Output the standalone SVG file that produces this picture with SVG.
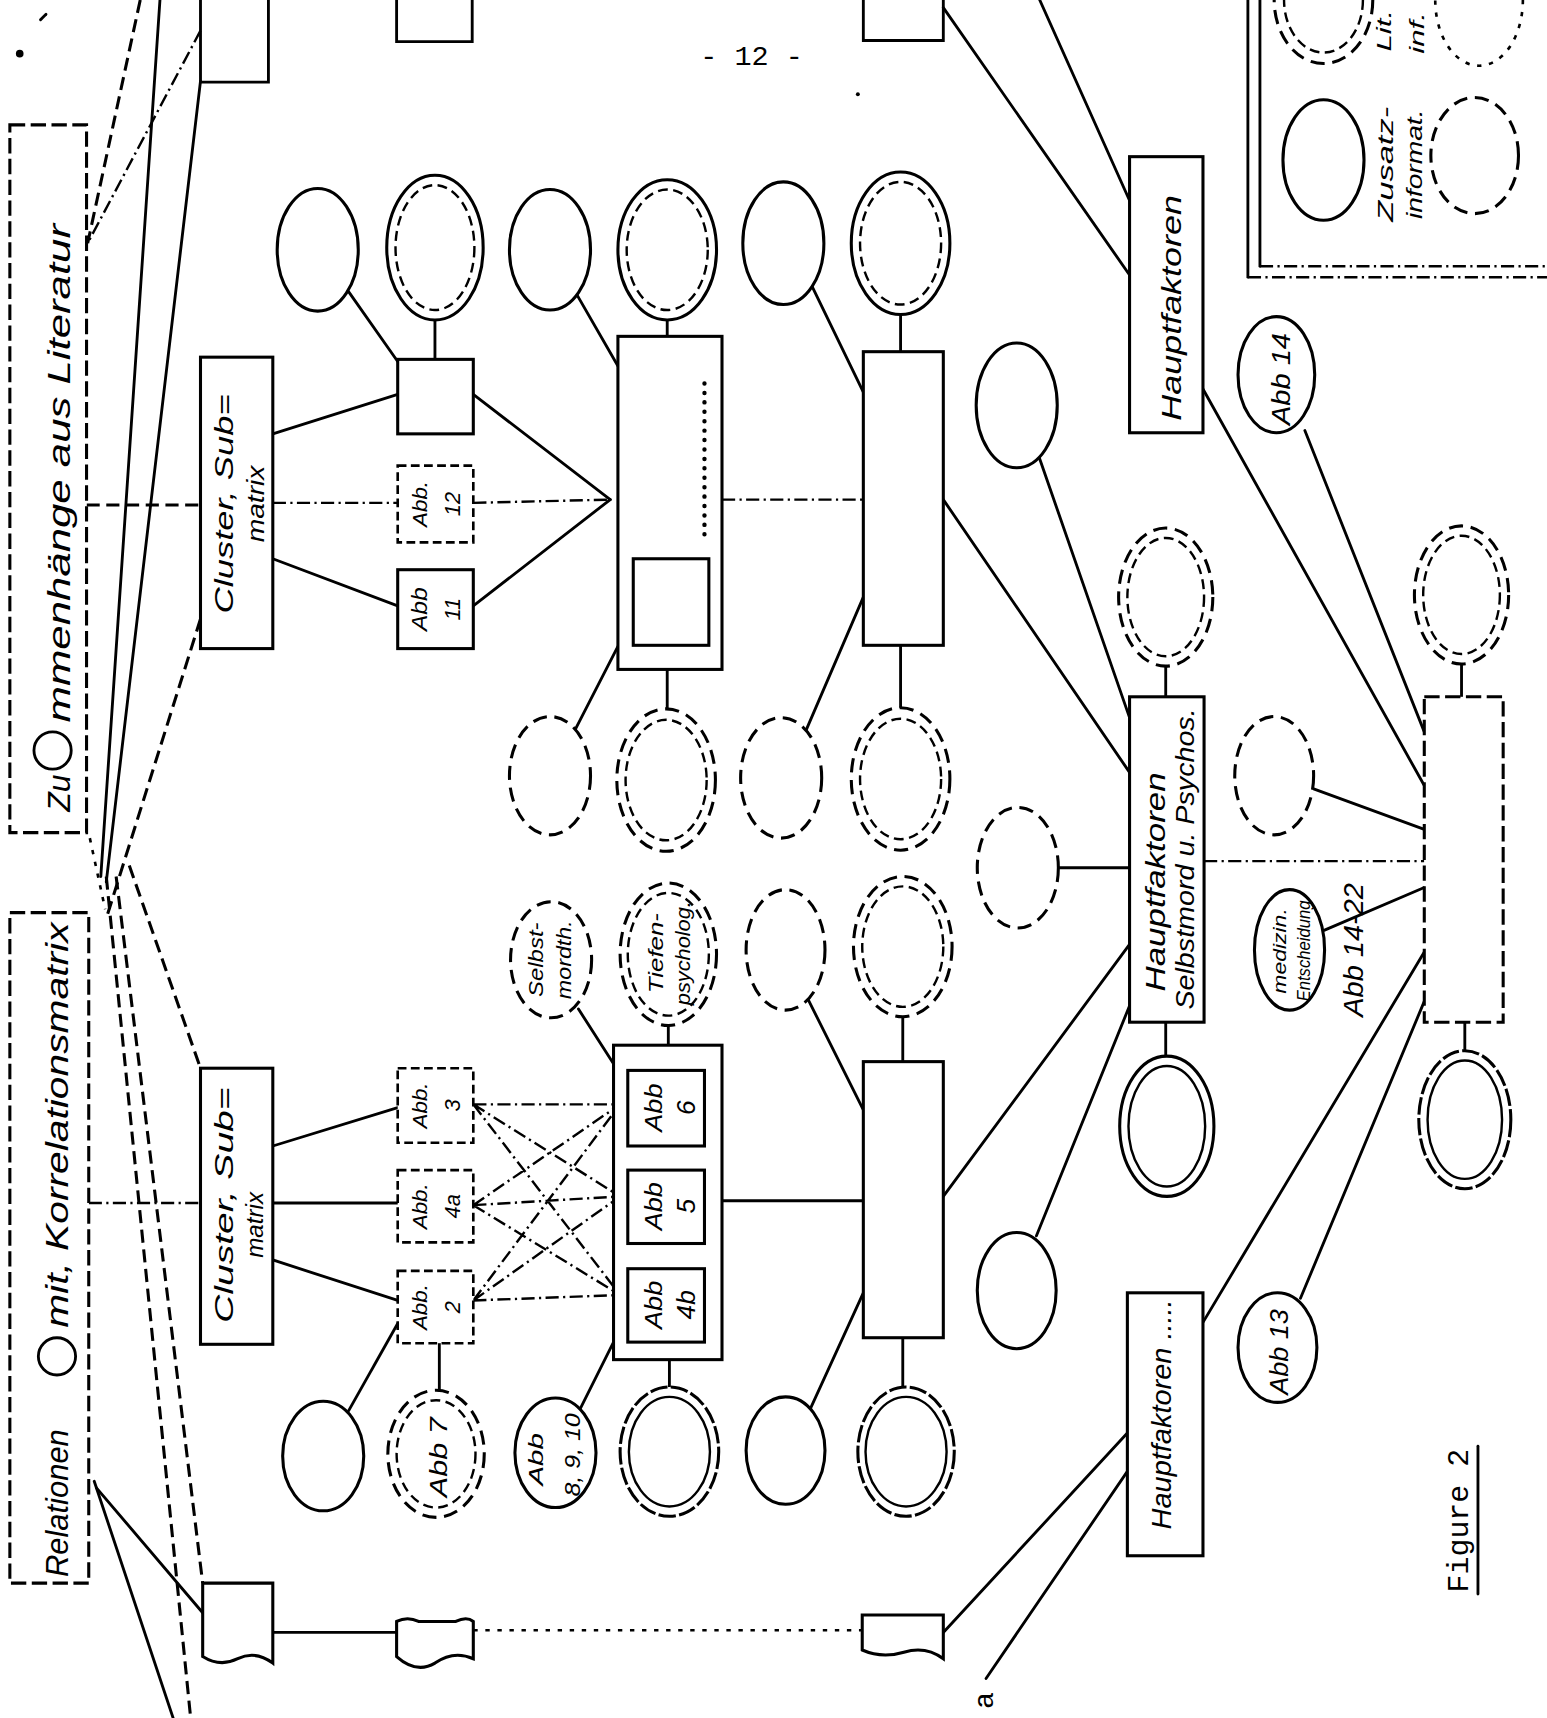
<svg xmlns="http://www.w3.org/2000/svg" width="1547" height="1718" viewBox="0 0 1547 1718">
<style>
.s{fill:none;stroke:#000;stroke-width:2.6;stroke-linecap:round}
.d{fill:none;stroke:#000;stroke-width:2.8;stroke-dasharray:12 6}
.dd{fill:none;stroke:#000;stroke-width:2.2;stroke-dasharray:12 4 2 4}
.dt{fill:none;stroke:#000;stroke-width:2.4;stroke-dasharray:4 7}
.box{fill:#fff;stroke:#000;stroke-width:2.8}
.dbox{fill:#fff;stroke:#000;stroke-width:2.8;stroke-dasharray:14 5}
.sbox{fill:#fff;stroke:#000;stroke-width:2.4;stroke-dasharray:8 4}
.es{fill:#fff;stroke:#000;stroke-width:2.8}
.ed{fill:#fff;stroke:#000;stroke-width:2.8;stroke-dasharray:13 7}
.ei{fill:none;stroke:#000;stroke-width:2.2;stroke-dasharray:9 5}
.eis{fill:none;stroke:#000;stroke-width:2.2}
.h{font-family:"Liberation Sans","DejaVu Sans",sans-serif;font-style:italic;fill:#000;text-anchor:middle}
.m{font-family:"Liberation Mono","DejaVu Sans Mono",monospace;fill:#000;text-anchor:middle}
</style>
<rect width="1547" height="1718" fill="#fff"/>
<g transform="scale(1.0956)">
<g id="connectors">
<path class="d" d="M128,0 L80,222"/>
<path class="dd" d="M183,28 L80,222"/>
<path class="s" d="M146,0 L92,800"/>
<path class="s" d="M183,74 L97,805"/>
<path class="d" d="M183,565 L98,835"/>
<path class="d" d="M118,790 L183,975"/>
<path class="d" d="M97,800 L174,1568"/>
<path class="d" d="M106,800 L185,1445"/>
<path class="s" d="M86,1352 L158,1568"/>
<path class="s" d="M88,1358 L185,1472"/>
<path class="dt" d="M82,765 L96,830"/>
<path class="d" d="M79,461 H183"/>
<path class="dd" d="M81,1098 H183"/>
<path class="s" d="M249,396 L363,360"/>
<path class="dd" d="M249,459 H363"/>
<path class="s" d="M249,510 L363,553"/>
<path class="s" d="M432,360 L557,456"/>
<path class="dd" d="M432,459 L557,456"/>
<path class="s" d="M432,553 L557,456"/>
<path class="dd" d="M659,456 H788"/>
<path class="s" d="M249,1046 L363,1011"/>
<path class="s" d="M249,1098 H363"/>
<path class="s" d="M249,1150 L363,1187"/>
<path class="dd" d="M432,1008 L566,1008 M432,1008 L566,1092 M432,1008 L566,1182 M432,1100 L566,1008 M432,1100 L566,1092 M432,1100 L566,1182 M432,1187 L566,1008 M432,1187 L566,1092 M432,1187 L566,1182"/>
<path class="s" d="M659,1096 H788"/>
<path class="s" d="M318,266 L363,330"/>
<path class="s" d="M397,291 V328"/>
<path class="s" d="M526,268 L564,334"/>
<path class="s" d="M609,292 V307"/>
<path class="s" d="M741,261 L788,358"/>
<path class="s" d="M822,287 V321"/>
<path class="s" d="M564,590 L525,666"/>
<path class="s" d="M609,611 V647"/>
<path class="s" d="M788,545 L736,666"/>
<path class="s" d="M822,589 V646"/>
<path class="s" d="M528,921 L560,971"/>
<path class="s" d="M610,936 V954"/>
<path class="s" d="M737,911 L788,1013"/>
<path class="s" d="M824,928 V969"/>
<path class="s" d="M363,1208 L318,1288"/>
<path class="s" d="M401,1226 V1269"/>
<path class="s" d="M560,1225 L530,1285"/>
<path class="s" d="M611,1241 V1266"/>
<path class="s" d="M788,1180 L740,1285"/>
<path class="s" d="M824,1221 V1266"/>
<path class="s" d="M861,7 L1031,251"/>
<path class="s" d="M949,0 L1031,183"/>
<path class="s" d="M1098,355 L1300,717"/>
<path class="s" d="M1191,393 L1300,668"/>
<path class="s" d="M948,416 L1031,655"/>
<path class="s" d="M861,456 L1031,705"/>
<path class="s" d="M966,792 H1031"/>
<path class="s" d="M1064,608 V636"/>
<path class="s" d="M1064,933 V964"/>
<path class="s" d="M861,1092 L1031,862"/>
<path class="s" d="M946,1128 L1031,918"/>
<path class="dd" d="M1099,786 H1300"/>
<path class="s" d="M1199,720 L1300,757"/>
<path class="s" d="M1334,606 V636"/>
<path class="s" d="M1337,933 V959"/>
<path class="s" d="M1209,849 L1300,810"/>
<path class="s" d="M1300,869 L1098,1207"/>
<path class="s" d="M1300,914 L1187,1185"/>
<path class="s" d="M249,1490 H362"/>
<path class="dt" d="M432,1488 H787"/>
<path class="s" d="M861,1490 L1029,1308"/>
<path class="s" d="M900,1532 L1029,1343"/>
</g>

<g id="marks">
<circle cx="18" cy="49" r="3.5" fill="#000"/>
<path class="s" d="M37,18 L42,13"/>
<circle cx="783" cy="86" r="1.8" fill="#000"/>
<text class="m" x="686" y="59" font-size="26">- 12 -</text>
<text class="m" transform="translate(1340,1388) rotate(-90)" font-size="27" textLength="131" lengthAdjust="spacingAndGlyphs">Figure 2</text>
<path class="s" d="M1349,1320 V1455"/>
<text class="m" transform="translate(906,1552) rotate(-90)" font-size="26">a</text>
</g>

<g id="top-boxes">
<path class="s" d="M183,0 V75 H245 V0"/>
<path class="s" d="M362,0 V38 H431 V0"/>
<path class="s" d="M788,0 V37 H861 V0"/>
</g>

<g id="legend">
<path class="s" d="M1139,0 V253"/>
<path class="s" d="M1150,0 V243"/>
<path class="dd" d="M1139,253 H1412"/>
<path class="dd" d="M1150,243 H1412"/>
<ellipse class="ed" cx="1208" cy="0" rx="45" ry="58" stroke-width="2"/>
<ellipse class="ei" cx="1208" cy="0" rx="36" ry="48"/>
<ellipse class="dt" cx="1350" cy="0" rx="40" ry="60"/>
<ellipse class="es" cx="1208" cy="146" rx="37" ry="55"/>
<ellipse class="ed" cx="1346" cy="142" rx="40" ry="53"/>
<text class="h" transform="translate(1271,150) rotate(-90)" font-size="20" textLength="105" lengthAdjust="spacingAndGlyphs">Zusatz-</text>
<text class="h" transform="translate(1298,150) rotate(-90)" font-size="20" textLength="100" lengthAdjust="spacingAndGlyphs">informat.</text>
<text class="h" transform="translate(1270,28) rotate(-90)" font-size="18" textLength="38" lengthAdjust="spacingAndGlyphs">Lit.</text>
<text class="h" transform="translate(1300,30) rotate(-90)" font-size="18" textLength="38" lengthAdjust="spacingAndGlyphs">inf.</text>
</g>

<g id="n-l1">
<rect class="dbox" x="9" y="114" width="70" height="646"/>
<text class="h" transform="translate(64,724) rotate(-90)" font-size="28" textLength="34" lengthAdjust="spacingAndGlyphs">Zu</text>
<circle cx="48" cy="685" r="17" fill="none" stroke="#000" stroke-width="2.6"/>
<text class="h" transform="translate(64,432) rotate(-90)" font-size="28" textLength="455" lengthAdjust="spacingAndGlyphs">mmenhänge aus Literatur</text>
</g>
<g id="n-l2">
<rect class="dbox" x="9" y="833" width="72" height="612"/>
<text class="h" transform="translate(62,1372) rotate(-90)" font-size="28" textLength="135" lengthAdjust="spacingAndGlyphs">Relationen</text>
<circle cx="52" cy="1238" r="17" fill="none" stroke="#000" stroke-width="2.6"/>
<text class="h" transform="translate(62,1027) rotate(-90)" font-size="28" textLength="370" lengthAdjust="spacingAndGlyphs">mit, Korrelationsmatrix</text>
</g>

<g id="n-ctop">
<rect class="box" x="183" y="326" width="66" height="266"/>
<text class="h" transform="translate(213,460) rotate(-90)" font-size="24" textLength="200" lengthAdjust="spacingAndGlyphs">Cluster, Sub=</text>
<text class="h" transform="translate(241,460) rotate(-90)" font-size="22" textLength="70" lengthAdjust="spacingAndGlyphs">matrix</text>
</g>
<g id="n-cbot">
<rect class="box" x="183" y="975" width="66" height="252"/>
<text class="h" transform="translate(213,1100) rotate(-90)" font-size="24" textLength="215" lengthAdjust="spacingAndGlyphs">Cluster, Sub=</text>
<text class="h" transform="translate(240,1118) rotate(-90)" font-size="22" textLength="60" lengthAdjust="spacingAndGlyphs">matrix</text>
</g>

<g id="n-sq"><rect class="box" x="363" y="328" width="69" height="68"/></g>
<g id="n-abb12"><rect class="sbox" x="363" y="425" width="69" height="70"/>
<text class="h" transform="translate(390,460) rotate(-90)" font-size="18" textLength="42" lengthAdjust="spacingAndGlyphs">Abb.</text>
<text class="h" transform="translate(420,460) rotate(-90)" font-size="20">12</text></g>
<g id="n-abb11"><rect class="box" x="363" y="520" width="69" height="72"/>
<text class="h" transform="translate(390,556) rotate(-90)" font-size="20" textLength="40" lengthAdjust="spacingAndGlyphs">Abb</text>
<text class="h" transform="translate(420,556) rotate(-90)" font-size="20">11</text></g>
<g id="n-abb3"><rect class="sbox" x="363" y="975" width="69" height="68"/>
<text class="h" transform="translate(390,1009) rotate(-90)" font-size="18" textLength="42" lengthAdjust="spacingAndGlyphs">Abb.</text>
<text class="h" transform="translate(420,1009) rotate(-90)" font-size="20">3</text></g>
<g id="n-abb4a"><rect class="sbox" x="363" y="1068" width="69" height="66"/>
<text class="h" transform="translate(390,1101) rotate(-90)" font-size="18" textLength="42" lengthAdjust="spacingAndGlyphs">Abb.</text>
<text class="h" transform="translate(420,1101) rotate(-90)" font-size="20">4a</text></g>
<g id="n-abb2"><rect class="sbox" x="363" y="1160" width="69" height="66"/>
<text class="h" transform="translate(390,1193) rotate(-90)" font-size="18" textLength="42" lengthAdjust="spacingAndGlyphs">Abb.</text>
<text class="h" transform="translate(420,1193) rotate(-90)" font-size="20">2</text></g>

<g id="n-bb1">
<rect class="box" x="564" y="307" width="95" height="304"/>
<rect class="box" x="578" y="510" width="69" height="79"/>
<path d="M643,350 V494" fill="none" stroke="#000" stroke-width="4" stroke-dasharray="0.1 8.5" stroke-linecap="round"/>
</g>
<g id="n-bb2"><rect class="box" x="788" y="321" width="73" height="268"/></g>
<g id="n-bb3">
<rect class="box" x="560" y="954" width="99" height="287"/>
<rect class="box" x="573" y="977" width="70" height="69"/>
<text class="h" transform="translate(604,1011) rotate(-90)" font-size="22" textLength="44" lengthAdjust="spacingAndGlyphs">Abb</text>
<text class="h" transform="translate(634,1011) rotate(-90)" font-size="24">6</text>
<rect class="box" x="573" y="1068" width="70" height="67"/>
<text class="h" transform="translate(604,1101) rotate(-90)" font-size="22" textLength="44" lengthAdjust="spacingAndGlyphs">Abb</text>
<text class="h" transform="translate(634,1101) rotate(-90)" font-size="24">5</text>
<rect class="box" x="573" y="1158" width="70" height="67"/>
<text class="h" transform="translate(604,1191) rotate(-90)" font-size="22" textLength="44" lengthAdjust="spacingAndGlyphs">Abb</text>
<text class="h" transform="translate(634,1191) rotate(-90)" font-size="24">4b</text>
</g>
<g id="n-bb4"><rect class="box" x="788" y="969" width="73" height="252"/></g>

<g id="n-hftop"><rect class="box" x="1031" y="143" width="67" height="252"/>
<text class="h" transform="translate(1078,281) rotate(-90)" font-size="26" textLength="206" lengthAdjust="spacingAndGlyphs">Hauptfaktoren</text></g>
<g id="n-hfmid"><rect class="box" x="1031" y="636" width="68" height="297"/>
<text class="h" transform="translate(1063,805) rotate(-90)" font-size="26" textLength="200" lengthAdjust="spacingAndGlyphs">Hauptfaktoren</text>
<text class="h" transform="translate(1090,784) rotate(-90)" font-size="23" textLength="275" lengthAdjust="spacingAndGlyphs">Selbstmord u. Psychos.</text></g>
<g id="n-hfbot"><rect class="box" x="1029" y="1180" width="69" height="240"/>
<text class="h" transform="translate(1069,1291) rotate(-90)" font-size="26" textLength="210" lengthAdjust="spacingAndGlyphs">Hauptfaktoren .....</text></g>
<g id="n-rb"><rect class="dbox" x="1300" y="636" width="72" height="297" stroke-dasharray="30 3"/></g>

<g id="n-a1"><ellipse class="es" cx="290" cy="228" rx="37" ry="56"/></g>
<g id="n-a2"><ellipse class="es" cx="397" cy="226" rx="44" ry="66"/><ellipse class="ei" cx="397" cy="226" rx="36" ry="57"/></g>
<g id="n-a3"><ellipse class="es" cx="502" cy="228" rx="37" ry="55"/></g>
<g id="n-a4"><ellipse class="es" cx="609" cy="228" rx="45" ry="64"/><ellipse class="ei" cx="609" cy="228" rx="37" ry="55"/></g>
<g id="n-a5"><ellipse class="es" cx="715" cy="222" rx="37" ry="56"/></g>
<g id="n-a6"><ellipse class="es" cx="822" cy="222" rx="45" ry="65"/><ellipse class="ei" cx="822" cy="222" rx="37" ry="56"/></g>

<g id="n-b1"><ellipse class="ed" cx="502" cy="708" rx="37" ry="54"/></g>
<g id="n-b2"><ellipse class="ed" cx="608" cy="712" rx="45" ry="65"/><ellipse class="ei" cx="608" cy="712" rx="37" ry="55"/></g>
<g id="n-b3"><ellipse class="ed" cx="713" cy="710" rx="37" ry="55"/></g>
<g id="n-b4"><ellipse class="ed" cx="822" cy="711" rx="45" ry="65"/><ellipse class="ei" cx="822" cy="711" rx="37" ry="55"/></g>

<g id="n-c1"><ellipse class="ed" cx="503" cy="876" rx="37" ry="53"/>
<text class="h" transform="translate(496,876) rotate(-90)" font-size="18" textLength="68" lengthAdjust="spacingAndGlyphs">Selbst-</text>
<text class="h" transform="translate(521,876) rotate(-90)" font-size="18" textLength="72" lengthAdjust="spacingAndGlyphs">mordth.</text></g>
<g id="n-c2"><ellipse class="ed" cx="610" cy="871" rx="44" ry="65"/><ellipse class="ei" cx="610" cy="871" rx="37" ry="56"/>
<text class="h" transform="translate(605,870) rotate(-90)" font-size="19" textLength="73" lengthAdjust="spacingAndGlyphs">Tiefen-</text>
<text class="h" transform="translate(630,870) rotate(-90)" font-size="19" textLength="95" lengthAdjust="spacingAndGlyphs">psycholog.</text></g>
<g id="n-c3"><ellipse class="ed" cx="717" cy="867" rx="36" ry="55"/></g>
<g id="n-c4"><ellipse class="ed" cx="824" cy="864" rx="45" ry="64"/><ellipse class="ei" cx="824" cy="864" rx="37" ry="55"/></g>

<g id="n-e1"><ellipse class="es" cx="295" cy="1329" rx="37" ry="50"/></g>
<g id="n-e2"><ellipse class="ed" cx="398" cy="1327" rx="44" ry="58" stroke-dasharray="12 3 2 3"/><ellipse class="ei" cx="398" cy="1327" rx="36" ry="49"/>
<text class="h" transform="translate(408,1330) rotate(-90)" font-size="22" textLength="73" lengthAdjust="spacingAndGlyphs">Abb 7</text></g>
<g id="n-e3"><ellipse class="es" cx="507" cy="1326" rx="37" ry="50"/>
<text class="h" transform="translate(496,1332) rotate(-90)" font-size="18" textLength="48" lengthAdjust="spacingAndGlyphs">Abb</text>
<text class="h" transform="translate(529,1328) rotate(-90)" font-size="20" textLength="76" lengthAdjust="spacingAndGlyphs">8, 9, 10</text></g>
<g id="n-e4"><ellipse class="es" cx="611" cy="1325" rx="45" ry="59" stroke-dasharray="16 3"/><ellipse class="eis" cx="611" cy="1325" rx="37" ry="50"/></g>
<g id="n-e5"><ellipse class="es" cx="717" cy="1324" rx="36" ry="49"/></g>
<g id="n-e6"><ellipse class="es" cx="827" cy="1325" rx="44" ry="59" stroke-dasharray="16 3"/><ellipse class="eis" cx="827" cy="1325" rx="37" ry="50"/></g>

<g id="n-m1"><ellipse class="es" cx="928" cy="370" rx="37" ry="57"/></g>
<g id="n-m2"><ellipse class="ed" cx="929" cy="792" rx="37" ry="55"/></g>
<g id="n-m3"><ellipse class="es" cx="928" cy="1178" rx="36" ry="53"/></g>
<g id="n-hm-top"><ellipse class="ed" cx="1064" cy="545" rx="43" ry="63"/><ellipse class="ei" cx="1064" cy="545" rx="35" ry="54"/></g>
<g id="n-hm-bot"><ellipse class="es" cx="1065" cy="1028" rx="43" ry="64"/><ellipse class="eis" cx="1065" cy="1028" rx="35" ry="55"/></g>
<g id="n-rb-top"><ellipse class="ed" cx="1334" cy="543" rx="43" ry="63"/><ellipse class="ei" cx="1334" cy="543" rx="35" ry="54"/></g>
<g id="n-rb-bot"><ellipse class="es" cx="1337" cy="1022" rx="42" ry="63" stroke-dasharray="16 3"/><ellipse class="eis" cx="1337" cy="1022" rx="34" ry="54"/></g>
<g id="n-rd"><ellipse class="ed" cx="1163" cy="708" rx="36" ry="54"/></g>
<g id="n-rmed"><ellipse class="es" cx="1177" cy="867" rx="32" ry="55"/>
<text class="h" transform="translate(1174,868) rotate(-90)" font-size="17" textLength="78" lengthAdjust="spacingAndGlyphs">medizin.</text>
<text class="h" transform="translate(1196,868) rotate(-90)" font-size="17" textLength="92" lengthAdjust="spacingAndGlyphs">Entscheidung</text></g>
<text class="h" transform="translate(1244,867) rotate(-90)" font-size="26" textLength="122" lengthAdjust="spacingAndGlyphs">Abb 14-22</text>
<g id="n-abb14"><ellipse class="es" cx="1165" cy="342" rx="35" ry="53"/>
<text class="h" transform="translate(1177,346) rotate(-90)" font-size="24" textLength="84" lengthAdjust="spacingAndGlyphs">Abb 14</text></g>
<g id="n-abb13"><ellipse class="es" cx="1166" cy="1230" rx="36" ry="50"/>
<text class="h" transform="translate(1176,1234) rotate(-90)" font-size="24" textLength="78" lengthAdjust="spacingAndGlyphs">Abb 13</text></g>

<g id="n-bottom-boxes">
<path class="box" d="M185,1445 H249 V1518 Q233,1506 217,1514 Q201,1522 185,1512 Z"/>
<path class="box" d="M362,1480 Q372,1475 382,1480 H416 Q426,1475 432,1480 V1514 Q414,1506 397,1518 Q380,1528 362,1512 Z"/>
<path class="box" d="M787,1474 H861 V1514 Q845,1502 825,1508 Q805,1514 787,1506 Z"/>
</g>
</g>
</svg>
